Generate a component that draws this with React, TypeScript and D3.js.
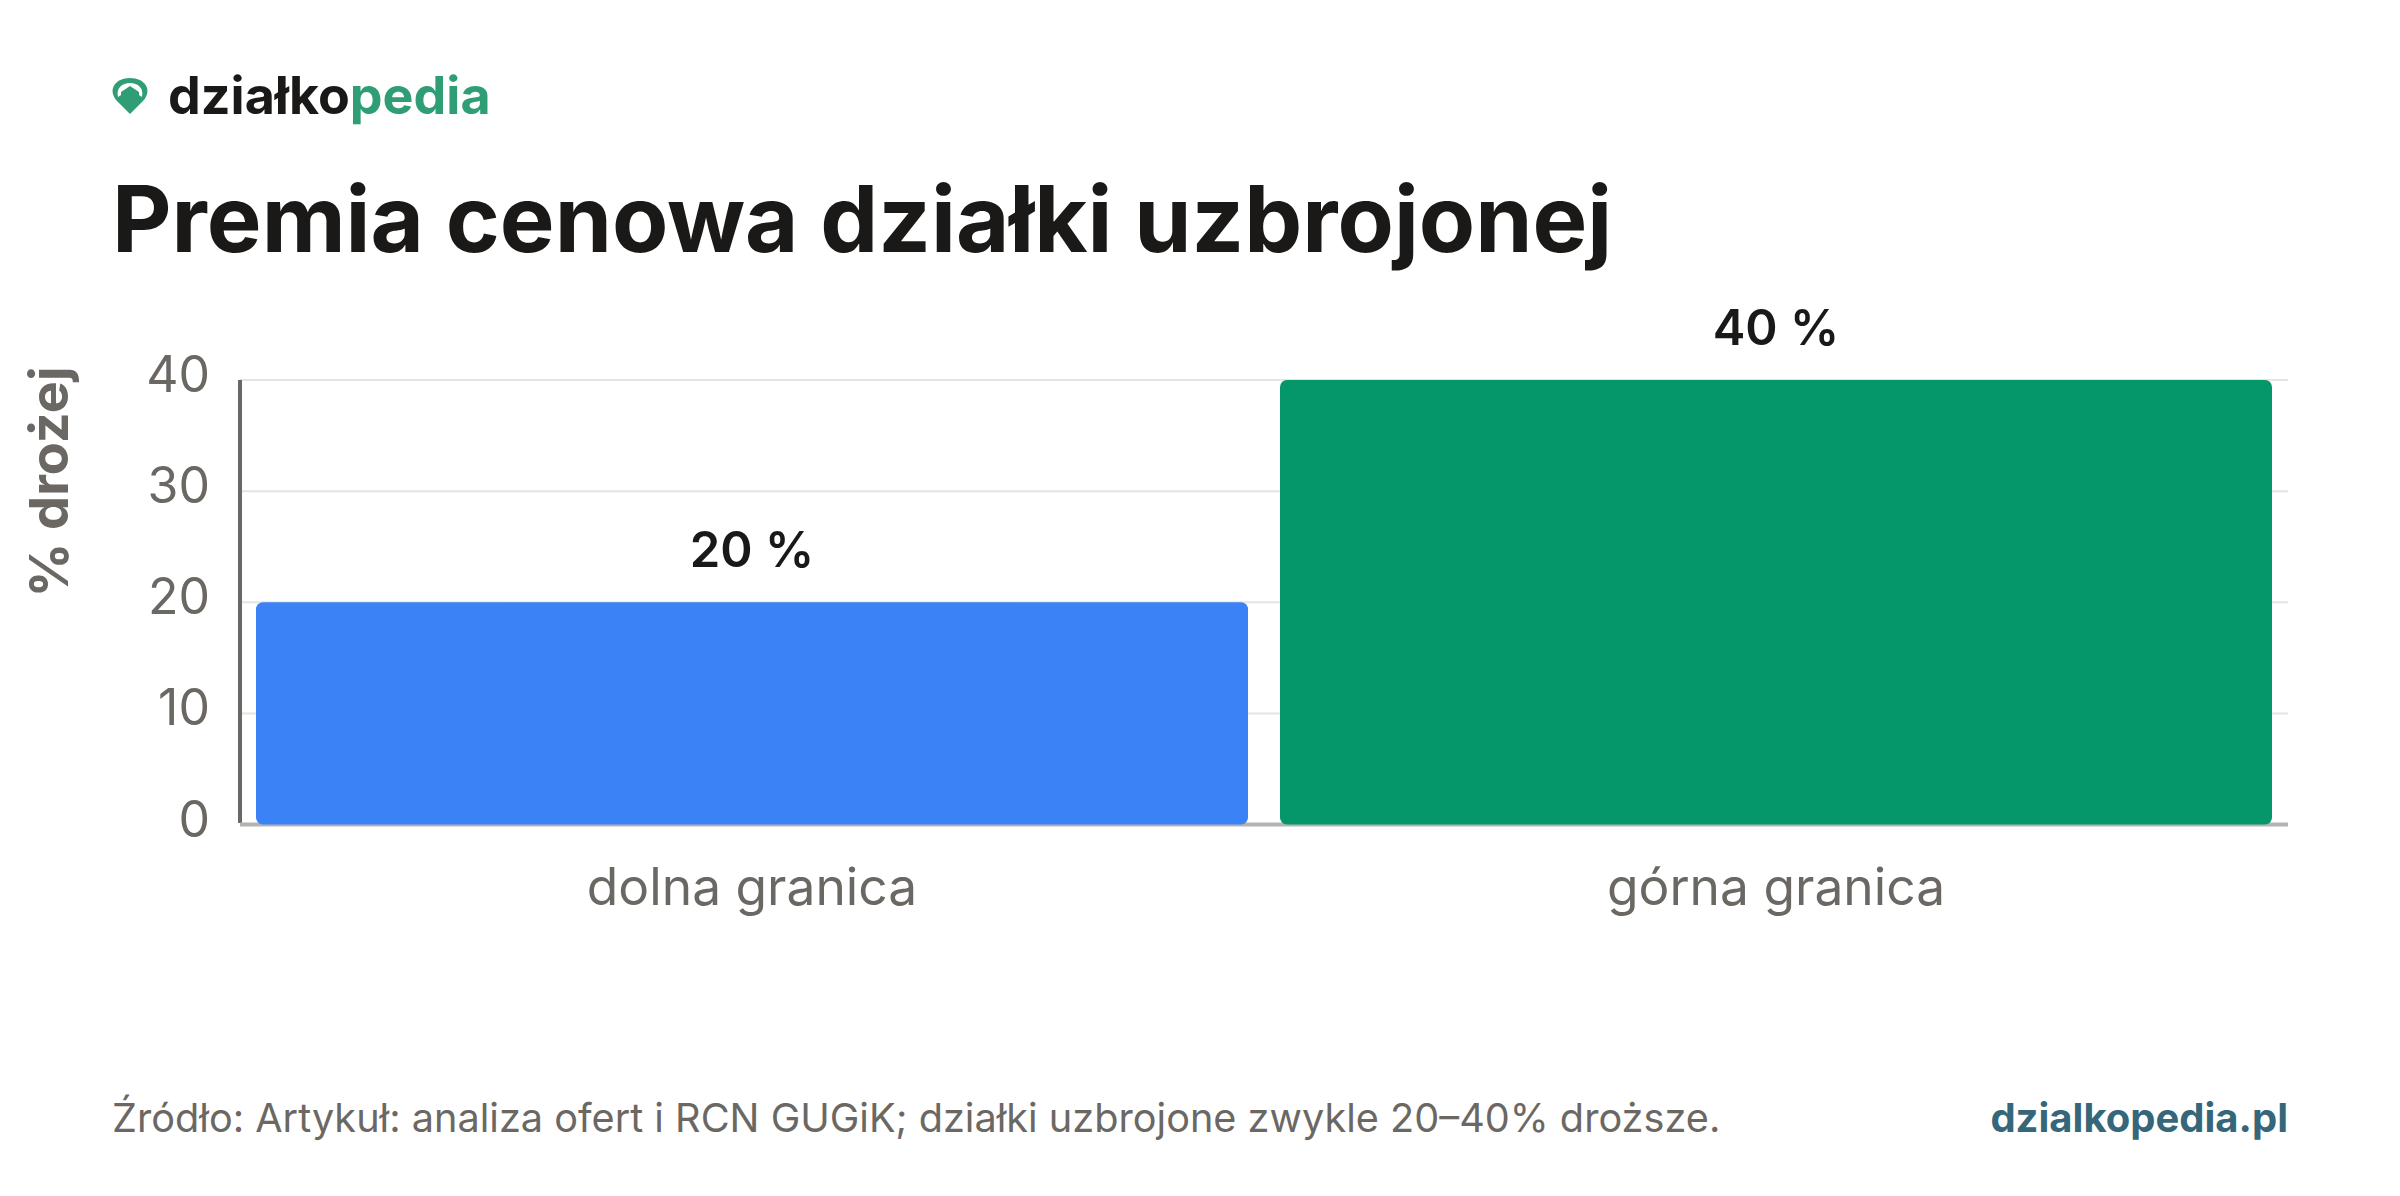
import { useRef, useEffect } from "react";
import * as d3 from "d3";

const categories = ["dolna granica", "górna granica"];
const values = [20, 40];
const barColors = ["#3b82f6", "#059669"];
const valueLabels = ["20 %", "40 %"];
const yTicks = [0, 10, 20, 30, 40];

const WIDTH = 2400;
const HEIGHT = 1196;
const FONT = "Inter, sans-serif";
const INK = "#1a1917";
const MUTED = "#6b6864";

export default function App() {
  const svgRef = useRef<SVGSVGElement>(null);

  useEffect(() => {
    if (!svgRef.current) return;
    const svg = d3.select(svgRef.current);
    svg.selectAll("*").remove();

    const x = d3.scaleBand<string>().domain(categories).range([240, 2288]).paddingInner(0.03125).paddingOuter(0.015625);
    const y = d3.scaleLinear().domain([0, 40]).range([824.5, 380]);

    svg.append("rect").attr("width", WIDTH).attr("height", HEIGHT).attr("fill", "#fff");

    // Logo
    const logo = svg.append("g").attr("transform", "translate(130,96)");
    logo.append("path")
      .attr("d", "M0,18 L-13,5 C-23,-6 -15,-18 0,-18 C15,-18 23,-6 13,5 Z")
      .attr("fill", "#2f9e74");
    logo.append("path")
      .attr("d", "M-12,1 C-14,-8 -8,-13 0,-13 C8,-13 14,-8 12,1 L9,-1 L9,-4 L0,-10 L-9,-4 L-9,-1 Z")
      .attr("fill", "#fff");
    const brand = svg.append("text")
      .attr("x", 168).attr("y", 114)
      .attr("font-family", FONT).attr("font-size", 52).attr("font-weight", 700);
    brand.append("tspan").attr("fill", INK).text("działko");
    brand.append("tspan").attr("fill", "#2f9e74").text("pedia");

    svg.append("text")
      .attr("x", 112).attr("y", 252)
      .attr("font-family", FONT).attr("font-size", 92).attr("font-weight", 700)
      .attr("fill", INK).text("Premia cenowa działki uzbrojonej");

    // Grid
    svg.append("g").selectAll("line").data(yTicks.slice(1)).join("line")
      .attr("x1", 240).attr("x2", 2288)
      .attr("y1", d => y(d)).attr("y2", d => y(d))
      .attr("stroke", "#e5e4e2").attr("stroke-width", 2);

    // Axes
    svg.append("line").attr("x1", 240).attr("x2", 240).attr("y1", 380).attr("y2", 823)
      .attr("stroke", MUTED).attr("stroke-width", 4);
    svg.append("line").attr("x1", 240).attr("x2", 2288).attr("y1", y(0)).attr("y2", y(0))
      .attr("stroke", "#b5b3b0").attr("stroke-width", 4);

    // Bars
    svg.append("g").selectAll("rect").data(values).join("rect")
      .attr("x", (_, i) => x(categories[i]) ?? 0)
      .attr("y", d => y(d))
      .attr("width", x.bandwidth())
      .attr("height", d => y(0) - y(d))
      .attr("rx", 7)
      .attr("fill", (_, i) => barColors[i]);

    svg.append("g").selectAll("text").data(yTicks).join("text")
      .attr("x", 210).attr("y", d => y(d) + 12)
      .attr("text-anchor", "end")
      .attr("font-family", FONT).attr("font-size", 50).attr("fill", MUTED)
      .text(d => d);

    svg.append("g").selectAll("text").data(categories).join("text")
      .attr("x", d => (x(d) ?? 0) + x.bandwidth() / 2).attr("y", 905)
      .attr("text-anchor", "middle")
      .attr("font-family", FONT).attr("font-size", 51.5).attr("fill", MUTED)
      .text(d => d);

    svg.append("g").selectAll("text").data(values).join("text")
      .attr("x", (_, i) => (x(categories[i]) ?? 0) + x.bandwidth() / 2)
      .attr("y", d => y(d) - 35)
      .attr("text-anchor", "middle")
      .attr("font-family", FONT).attr("font-size", 49).attr("font-weight", 600).attr("fill", INK)
      .text((_, i) => valueLabels[i]);

    svg.append("text")
      .attr("transform", "translate(68,482) rotate(-90)")
      .attr("text-anchor", "middle")
      .attr("font-family", FONT).attr("font-size", 54).attr("font-weight", 700).attr("fill", MUTED)
      .text("% drożej");

    // Footer
    svg.append("text")
      .attr("x", 112).attr("y", 1132)
      .attr("font-family", FONT).attr("font-size", 39.66).attr("fill", MUTED)
      .text("Źródło: Artykuł: analiza ofert i RCN GUGiK; działki uzbrojone zwykle 20–40% droższe.");
    svg.append("text")
      .attr("x", 2288).attr("y", 1132)
      .attr("text-anchor", "end")
      .attr("font-family", FONT).attr("font-size", 40).attr("font-weight", 700).attr("fill", "#35667a")
      .text("dzialkopedia.pl");
  }, []);

  return <svg ref={svgRef} width={WIDTH} height={HEIGHT} style={{ position: "absolute", left: 0, top: 0 }} />;
}
